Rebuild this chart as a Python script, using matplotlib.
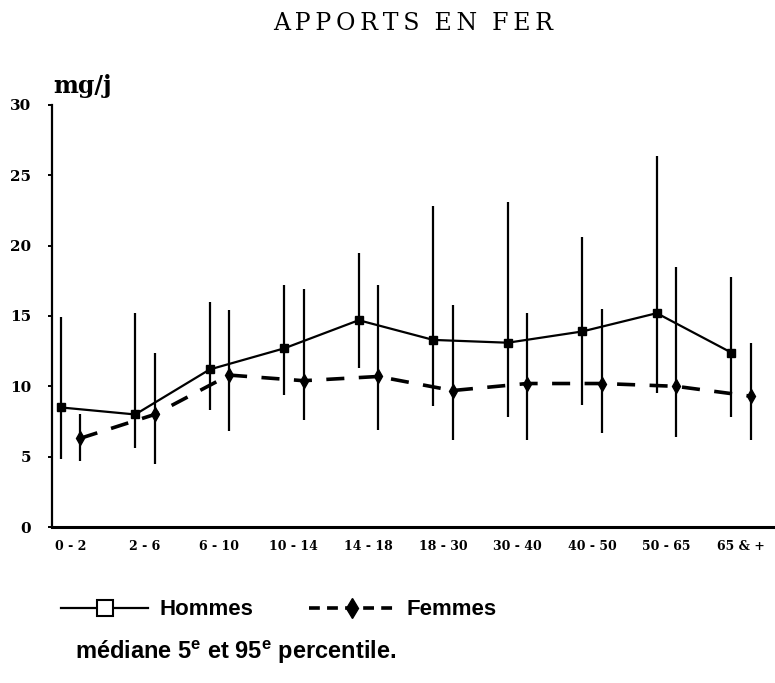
import matplotlib
matplotlib.use("Agg")
import matplotlib.pyplot as plt
from matplotlib.lines import Line2D
import numpy as np

# age groups (years)
ages = ["0 - 2", "2 - 6", "6 - 10", "10 - 14", "14 - 18",
        "18 - 30", "30 - 40", "40 - 50", "50 - 65", "65 & +"]

# iron intake mg/j : median, 5th and 95th percentile
hommes_med = [8.5, 8.0, 11.2, 12.7, 14.7, 13.3, 13.1, 13.9, 15.2, 12.4]
hommes_p5 = [4.8, 5.6, 8.3, 9.4, 11.3, 8.6, 7.8, 8.7, 9.5, 7.8]
hommes_p95 = [14.9, 15.2, 16.0, 17.2, 19.5, 22.8, 23.1, 20.6, 26.4, 17.8]

femmes_med = [6.3, 8.0, 10.8, 10.4, 10.7, 9.7, 10.2, 10.2, 10.0, 9.3]
femmes_p5 = [4.7, 4.5, 6.8, 7.6, 6.9, 6.2, 6.2, 6.7, 6.4, 6.2]
femmes_p95 = [8.0, 12.4, 15.4, 16.9, 17.2, 15.8, 15.2, 15.5, 18.5, 13.1]

x = np.arange(len(ages))
xh = x - 0.13
xf = x + 0.13

plt.rcParams["mathtext.fontset"] = "custom"
plt.rcParams["mathtext.bf"] = "Liberation Sans:bold"
plt.rcParams["mathtext.rm"] = "Liberation Sans:bold"

fig = plt.figure(figsize=(7.75, 6.83), dpi=100)
ax = fig.add_axes([0.067, 0.2284, 0.933, 0.6179])

hm = np.array(hommes_med)
fm = np.array(femmes_med)
ax.errorbar(xh, hm, yerr=[hm - np.array(hommes_p5), np.array(hommes_p95) - hm],
            fmt="-", color="black", lw=1.6, elinewidth=1.6, capsize=0,
            marker="s", ms=6, mfc="black", mec="black")
ax.errorbar(xf, fm, yerr=[fm - np.array(femmes_p5), np.array(femmes_p95) - fm],
            fmt="--", color="black", lw=2.6, elinewidth=1.6, capsize=0,
            marker="d", ms=7, mfc="black", mec="black", dashes=(5, 4))

ax.set_xlim(-0.248, 9.457)
ax.set_ylim(0, 30)
ax.spines["top"].set_visible(False)
ax.spines["right"].set_visible(False)
ax.spines["left"].set_linewidth(1.6)
ax.spines["bottom"].set_linewidth(2.2)
ax.set_yticks([0, 5, 10, 15, 20, 25, 30])
ax.set_xticks(x)
ax.set_xticklabels(ages, fontfamily="DejaVu Serif", fontweight="bold", fontsize=9)
ax.tick_params(axis="x", length=0, pad=9)
ax.tick_params(axis="y", length=3, width=1.4, pad=12)
for lab in ax.get_yticklabels():
    lab.set_fontfamily("DejaVu Serif")
    lab.set_fontweight("bold")
    lab.set_fontsize(11)

ax.text(0.002, 30.85, "mg/j", transform=ax.get_yaxis_transform(),
        fontfamily="DejaVu Serif", fontweight="bold", fontsize=17,
        ha="left", va="baseline")

title = "\u2009".join("APPORTS") + "  " + "\u2009".join("EN") + "  " + "\u2009".join("FER")
fig.text(0.533, 0.966, title, fontfamily="DejaVu Serif",
         fontsize=17, ha="center", va="center")

handles = [
    Line2D([], [], color="black", lw=1.6, marker="s", ms=11, mfc="white", mec="black", mew=1.5),
    Line2D([], [], color="black", lw=2.6, ls=(0, (3, 2)), marker="d", ms=10, mfc="black", mec="black"),
]
fig.legend(handles, ["Hommes", "Femmes"], ncol=2, loc="center",
           bbox_to_anchor=(0.36, 0.107), frameon=False,
           prop={"family": "Liberation Sans", "weight": "bold", "size": 16},
           handlelength=3.9, handletextpad=0.5, columnspacing=2.5)

fig.text(0.097, 0.045, r"médiane 5$^{\mathbf{e}}$ et 95$^{\mathbf{e}}$ percentile.",
         fontfamily="Liberation Sans", fontweight="bold",
         fontsize=17, ha="left", va="center")

fig.savefig("out.png", dpi=100)
